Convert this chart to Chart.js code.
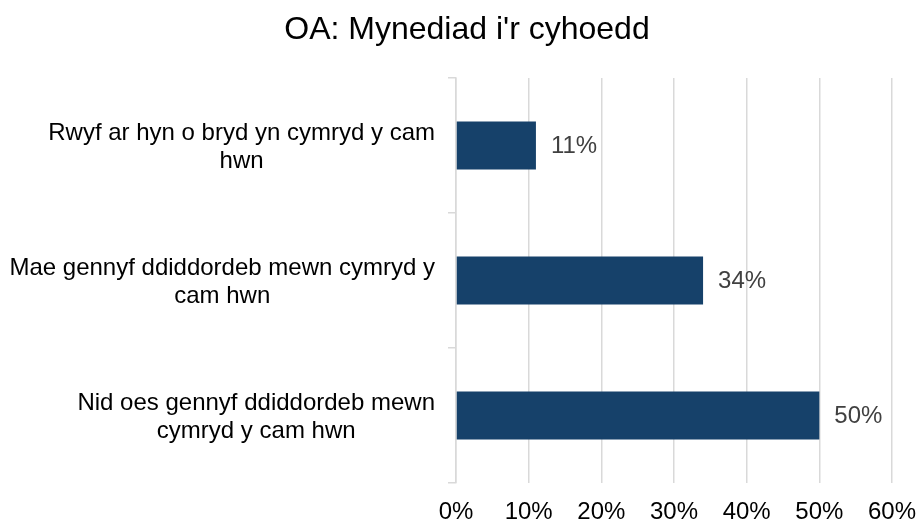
<!DOCTYPE html>
<html>
<head>
<meta charset="utf-8">
<script src="https://cdn.jsdelivr.net/npm/chart.js@4"></script>
<style>
  html, body { margin: 0; padding: 0; background: #fff; overflow: hidden; }
  canvas { display: block; }
</style>
</head>
<body>
<canvas id="barChart" width="917" height="522"></canvas>
<script>
// chart data
const CATEGORIES = [
  ['Rwyf ar hyn o bryd yn cymryd y cam', 'hwn'],
  ['Mae gennyf ddiddordeb mewn cymryd y', 'cam hwn'],
  ['Nid oes gennyf ddiddordeb mewn', 'cymryd y cam hwn']
];
const VALUES = [11, 34, 50];
const X_TICKS = [0, 10, 20, 30, 40, 50, 60];
const TITLE = "OA: Mynediad i'r cyhoedd";

const FONT = '"Liberation Sans", Arial, sans-serif';
const BAR_COLOR = '#16416a';
const GRID_COLOR = '#d9d9d9';

// title drawn by hand so it can sit off-centre like the original
const titlePlugin = {
  id: 'titleText',
  afterDraw(chart) {
    const ctx = chart.ctx;
    ctx.save();
    ctx.font = '32px ' + FONT;
    ctx.fillStyle = '#000';
    ctx.textAlign = 'center';
    ctx.textBaseline = 'middle';
    ctx.fillText(TITLE, 467, 30);
    ctx.restore();
  }
};

// category labels: block right-aligned, lines centred inside the block
const catLabelPlugin = {
  id: 'catLabels',
  afterDraw(chart) {
    const ctx = chart.ctx;
    const yScale = chart.scales.y;
    const right = chart.chartArea.left - 21;
    const lineH = 28;
    ctx.save();
    ctx.font = '24px ' + FONT;
    ctx.fillStyle = '#000';
    ctx.textAlign = 'center';
    ctx.textBaseline = 'middle';
    CATEGORIES.forEach((lines, i) => {
      const y = yScale.getPixelForValue(i) + 2;
      const maxW = Math.max(...lines.map(l => ctx.measureText(l).width));
      const cx = right - maxW / 2;
      lines.forEach((l, j) => {
        ctx.fillText(l, cx, y + (j - (lines.length - 1) / 2) * lineH);
      });
    });
    ctx.restore();
  }
};

// value labels at the end of each bar
const valueLabelPlugin = {
  id: 'valueLabels',
  afterDatasetsDraw(chart) {
    const ctx = chart.ctx;
    const meta = chart.getDatasetMeta(0);
    ctx.save();
    ctx.font = '24px ' + FONT;
    ctx.fillStyle = '#404040';
    ctx.textAlign = 'left';
    ctx.textBaseline = 'middle';
    meta.data.forEach((bar, i) => {
      ctx.fillText(VALUES[i] + '%', bar.x + 15, bar.y + 1);
    });
    ctx.restore();
  }
};

new Chart(document.getElementById('barChart'), {
  type: 'bar',
  data: {
    labels: CATEGORIES,
    datasets: [{
      data: VALUES,
      backgroundColor: BAR_COLOR,
      categoryPercentage: 1,
      barPercentage: 0.355
    }]
  },
  plugins: [titlePlugin, catLabelPlugin, valueLabelPlugin],
  options: {
    indexAxis: 'y',
    responsive: false,
    animation: false,
    layout: { padding: { left: 0, right: 25, top: 78, bottom: 0 } },
    plugins: {
      legend: { display: false },
      tooltip: { enabled: false },
      title: { display: false }
    },
    scales: {
      x: {
        min: X_TICKS[0],
        max: X_TICKS[X_TICKS.length - 1],
        afterBuildTicks: s => { s.ticks = X_TICKS.map(v => ({ value: v })); },
        afterFit: s => {
          s.height = 39;
          s.paddingLeft = 0;
          s.paddingRight = 0;
        },
        grid: { color: GRID_COLOR, lineWidth: 1.5, drawTicks: false },
        border: { display: false },
        ticks: {
          color: '#000',
          padding: 17,
          font: { family: FONT, size: 24, lineHeight: 1 },
          callback: v => v + '%'
        }
      },
      y: {
        afterFit: s => { s.width = 456; },
        grid: { color: GRID_COLOR, lineWidth: 1.5, drawOnChartArea: false, tickLength: 8 },
        border: { display: true, color: GRID_COLOR, width: 1.5 },
        ticks: { display: false }
      }
    }
  }
});
</script>
</body>
</html>
